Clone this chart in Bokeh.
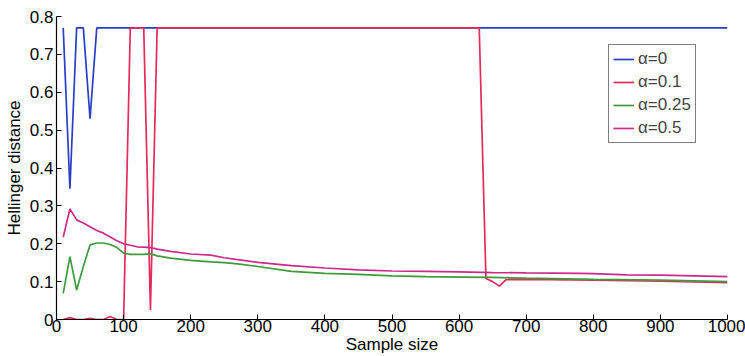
from bokeh.plotting import figure
from bokeh.models import Range1d, Legend, LegendItem, CustomJSTickFormatter, FixedTicker
from bokeh.embed import file_html
from bokeh.resources import INLINE

# alpha = 0
x_a0 = [10, 20, 30, 40, 50, 60, 1000]
y_a0 = [0.77, 0.345, 0.77, 0.77, 0.53, 0.77, 0.77]

# alpha = 0.1
x_a01 = [10, 20, 30, 40, 50, 60, 70, 80, 90, 100, 110, 120, 130, 140, 150,
         630, 640, 650, 660, 670, 700, 800, 900, 1000]
y_a01 = [0.0, 0.005, 0.0, 0.0, 0.003, 0.0, 0.0, 0.008, 0.0, 0.0, 0.77, 0.77, 0.77, 0.025, 0.77,
         0.77, 0.108, 0.1, 0.088, 0.105, 0.106, 0.104, 0.101, 0.097]

# alpha = 0.25
x_a025 = [10, 20, 30, 40, 50, 60, 70, 80, 90, 100, 110, 120, 130, 140, 150, 170, 200,
          230, 250, 270, 300, 350, 400, 450, 500, 550, 600, 650, 700, 800, 900, 1000]
y_a025 = [0.069, 0.166, 0.078, 0.14, 0.197, 0.202, 0.202, 0.198, 0.19, 0.175, 0.172, 0.172,
          0.172, 0.174, 0.168, 0.162, 0.156, 0.152, 0.150, 0.147, 0.14, 0.127, 0.122, 0.119,
          0.115, 0.113, 0.112, 0.111, 0.109, 0.106, 0.104, 0.1]

# alpha = 0.5
x_a05 = [10, 20, 30, 40, 50, 60, 70, 80, 90, 100, 110, 120, 130, 140, 150, 170, 200,
         230, 250, 270, 300, 350, 400, 450, 500, 550, 600, 650, 700, 780, 800, 850, 900, 950, 1000]
y_a05 = [0.217, 0.292, 0.263, 0.255, 0.245, 0.235, 0.228, 0.218, 0.208, 0.2, 0.196, 0.192,
         0.191, 0.19, 0.186, 0.18, 0.173, 0.17, 0.163, 0.158, 0.151, 0.142, 0.136, 0.131,
         0.128, 0.127, 0.126, 0.124, 0.123, 0.122, 0.121, 0.118, 0.117, 0.115, 0.113]

labels = ["α=0", "α=0.1", "α=0.25", "α=0.5"]
colors = ["#2a3fc4", "#e52a5c", "#3f9a3f", "#cc2a8a"]
x_ticks = [0, 100, 200, 300, 400, 500, 600, 700, 800, 900, 1000]
y_ticks = [0, 0.1, 0.2, 0.3, 0.4, 0.5, 0.6, 0.7, 0.8]

FONT = "Liberation Sans"

p = figure(width=745, height=356, output_backend="svg", toolbar_location=None,
           x_range=Range1d(0, 1000), y_range=Range1d(0, 0.8),
           min_border_left=56, min_border_right=18, min_border_top=16, min_border_bottom=36)
p.outline_line_color = None
p.xgrid.visible = False
p.ygrid.visible = False

series = [(x_a0, y_a0), (x_a01, y_a01), (x_a025, y_a025), (x_a05, y_a05)]
renderers = []
for (xs, ys), c in zip(series, colors):
    r = p.line(xs, ys, line_color=c, line_width=1.7)
    renderers.append(r)

for ax in (p.xaxis[0], p.yaxis[0]):
    ax.major_tick_in = 5
    ax.major_tick_out = 0
    ax.minor_tick_in = 0
    ax.minor_tick_out = 0
    ax.axis_line_color = "black"
    ax.axis_line_width = 1.2
    ax.major_tick_line_color = "black"
    ax.major_label_text_font = FONT
    ax.major_label_text_font_size = "17px"
    ax.major_label_text_color = "black"
    ax.axis_label_text_font = FONT
    ax.axis_label_text_font_size = "17px"
    ax.axis_label_text_font_style = "normal"
    ax.axis_label_text_color = "black"

p.xaxis[0].ticker = FixedTicker(ticks=x_ticks)
p.yaxis[0].ticker = FixedTicker(ticks=y_ticks)
p.yaxis[0].formatter = CustomJSTickFormatter(code="return (Math.round(tick*10)/10).toString();")
p.xaxis[0].formatter = CustomJSTickFormatter(code="return Math.round(tick).toString();")
p.xaxis[0].major_label_standoff = 0
p.xaxis[0].axis_label_standoff = 0
p.yaxis[0].major_label_standoff = 3
p.yaxis[0].axis_label_standoff = 3
p.xaxis[0].axis_label = "Sample size"
p.yaxis[0].axis_label = "Hellinger distance"

legend = Legend(items=[LegendItem(label=l, renderers=[r]) for l, r in zip(labels, renderers)],
                location=(552, 176))
legend.label_text_font = FONT
legend.label_text_font_size = "17px"
legend.glyph_width = 21
legend.glyph_height = 20
legend.label_height = 20
legend.label_standoff = 4
legend.spacing = 3
legend.padding = 4
legend.margin = 0
legend.border_line_color = "black"
legend.border_line_width = 1.2
legend.background_fill_alpha = 1
p.add_layout(legend, "center")

open("out.html", "w").write(file_html(p, INLINE))
